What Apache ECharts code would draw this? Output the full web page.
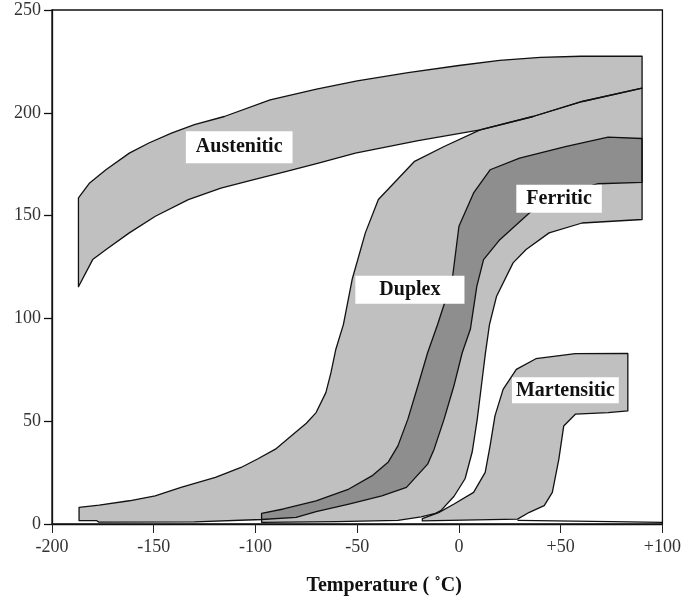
<!DOCTYPE html>
<html>
<head>
<meta charset="utf-8">
<script src="https://cdn.jsdelivr.net/npm/echarts@6/dist/echarts.min.js"></script>
<style>
  html, body { margin: 0; padding: 0; background: #fff; }
  #chart { width: 684px; height: 601px; }
</style>
</head>
<body>
<div id="chart"></div>
<script>
// Impact energy bands vs. temperature, by stainless steel family.
// Each band is bounded by an upper and a lower curve, points as [temperature, energy].

const xTicks = [-200, -150, -100, -50, 0, 50, 100];
const yTicks = [0, 50, 100, 150, 200, 250];

const austeniticUpper = [[-187, 158.6], [-181.5, 165.9], [-173.5, 172.3], [-162, 180.4], [-152.4, 185.3],
  [-141.3, 190.1], [-130, 194.2], [-115.3, 198.2], [-92.8, 206.3], [-70, 211.5], [-50, 215.5],
  [-25, 219.5], [0, 223], [20, 225.5], [40, 227], [60, 227.5], [90, 227.5]];
const austeniticLower = [[-187, 115.4], [-180, 128.6], [-173.4, 133.5], [-162, 141.6], [-149.2, 149.7],
  [-133, 157.8], [-117, 163.4], [-100.8, 167.5], [-84.7, 171.5], [-68.6, 175.6], [-50.9, 180.4],
  [-20, 186.5], [10.4, 191.7], [36.4, 198.2], [60.6, 205.5], [90, 212]];

const duplexUpper = [[-186.7, 8.1], [-176.8, 9.2], [-162, 11.3], [-149.3, 13.7], [-136.6, 17.8],
  [-119.7, 22.7], [-107.1, 27.5], [-99, 31.6], [-90.2, 36.4], [-81.6, 43.5], [-75, 49],
  [-70.2, 54.2], [-65.4, 63.9], [-62.9, 73.6], [-60.5, 85], [-56.8, 97], [-52.5, 118.9],
  [-46, 141.6], [-39.6, 157.8], [-21.8, 176.4], [-7.3, 183.6], [10.4, 191.7], [36.4, 198.2],
  [60.6, 205.5], [90, 212]];
const duplexLower = [[-186.7, 1.6], [-178, 1.6], [-177, 0.9], [-130, 1.0], [-97, 2.2], [-80, 3.2],
  [-70.2, 6.0], [-54.1, 9.7], [-37.9, 13.7], [-25.8, 17.8], [-15.4, 29.1], [-12.2, 36.4],
  [-7.3, 51], [-2.5, 67.1], [1.6, 83.3], [5.6, 94.7], [8.8, 115.7], [12.1, 128.6], [20.1, 138.3],
  [34.6, 151.3], [45, 157.5], [56, 162], [68.5, 165.5], [90, 166.2]];

const ferriticUpper = [[-97, 5.2], [-86.3, 7.3], [-70.2, 11.3], [-54.1, 17], [-42.8, 23.4],
  [-34.7, 30.2], [-30, 38], [-25.1, 51], [-20.2, 67.1], [-15.4, 83.3], [-10.5, 97], [-3.3, 118.9],
  [0, 144.8], [7.2, 161], [15.3, 172.3], [29.8, 178], [52.3, 183.6], [73.3, 188.2], [90, 187.5]];
const ferriticLower = [[-97, 0.8], [-60, 1.2], [-30, 1.8], [-18.6, 3.5], [-12, 5], [-8.9, 6.5],
  [-2.4, 13.5], [3, 22], [6.5, 35], [9, 51], [11, 67], [13, 83], [15, 97], [18.5, 110.8],
  [26.6, 127], [33, 133.5], [44.3, 141.6], [60.5, 146.4], [90, 148.1]];

const martensiticUpper = [[-18, 2.6], [-10, 5.5], [-2.4, 9.7], [7.2, 15.4], [12.9, 25.1], [15.3, 38],
  [17.7, 52.6], [21.7, 65.5], [28.2, 75.2], [37.8, 80.4], [57.2, 82.9], [83, 83]];
const martensiticLower = [[-18, 1.5], [28.8, 2.4], [34.6, 5.7], [41.9, 8.9], [45.9, 15.4],
  [49.1, 31.6], [51.5, 47.7], [57.2, 53.4], [73.3, 54.2], [83, 55]];
const martensiticBase = [[28.8, 1.8], [75, 1.2], [100, 0.8]];

const bandNames = ['Austenitic', 'Duplex', 'Ferritic', 'Martensitic'];

// label anchors (centre of each white tag), in axis units
const labelAnchors = [[-108, 183.3], [-24.1, 113.9], [49.2, 158.2], [52.3, 65]];
const labelPadding = [[6, 10], [4, 24], [4, 10], [3, 4]];

const LIGHT = '#c0c0c0';
const DARK = '#8e8e8e';
const INK = '#111';
const SERIF = '"Liberation Serif", "Times New Roman", serif';

function closed(upper, lower) {
  return upper.concat(lower.slice().reverse());
}

const austenitic = closed(austeniticUpper, austeniticLower);
const duplex = closed(duplexUpper, duplexLower);
const ferritic = closed(ferriticUpper, ferriticLower);
const martensitic = closed(martensiticUpper, martensiticLower);
// where the ferritic band lies over the duplex band
const overlap = closed(ferriticUpper, duplexLower.filter(p => p[0] >= -97));

function shapeSeries(points, style, polyline) {
  return {
    type: 'custom',
    coordinateSystem: 'cartesian2d',
    silent: true,
    data: [[points[0][0], points[0][1]]],
    renderItem: function (params, api) {
      return {
        type: polyline ? 'polyline' : 'polygon',
        shape: { points: points.map(p => api.coord(p)) },
        style: style
      };
    }
  };
}

const fillStyle = { fill: LIGHT, stroke: null };
const edgeStyle = { fill: null, stroke: INK, lineWidth: 1.3, lineJoin: 'round' };

// white name tags placed at their anchors
const tagSeries = {
  type: 'custom',
  coordinateSystem: 'cartesian2d',
  silent: true,
  z: 10,
  data: labelAnchors.map((p, i) => [p[0], p[1], i]),
  renderItem: function (params, api) {
    const i = api.value(2);
    const pt = api.coord([api.value(0), api.value(1)]);
    return {
      type: 'text',
      x: pt[0],
      y: pt[1],
      style: {
        text: bandNames[i],
        font: 'bold 20px ' + SERIF,
        fill: '#111',
        align: 'center',
        verticalAlign: 'middle',
        lineHeight: 20,
        backgroundColor: '#fff',
        padding: labelPadding[i]
      }
    };
  }
};

const series = [
  shapeSeries(austenitic, fillStyle),
  shapeSeries(duplex, fillStyle),
  shapeSeries(ferritic, fillStyle),
  shapeSeries(martensitic, fillStyle),
  shapeSeries(overlap, { fill: DARK, stroke: null }),
  shapeSeries(austenitic, edgeStyle),
  shapeSeries(duplex, edgeStyle),
  shapeSeries(ferritic, edgeStyle),
  shapeSeries(martensitic, edgeStyle),
  shapeSeries(martensiticBase, { fill: null, stroke: INK, lineWidth: 1.2 }, true),
  tagSeries
];

const chart = echarts.init(document.getElementById('chart'), null, { renderer: 'canvas' });
chart.setOption({
  animation: false,
  backgroundColor: '#fff',
  grid: {
    left: 52, right: 12, top: 10, bottom: 76,
    show: true, borderColor: INK, borderWidth: 1.3, backgroundColor: 'transparent'
  },
  xAxis: {
    type: 'value',
    min: xTicks[0], max: xTicks[xTicks.length - 1], interval: 50,
    name: 'Temperature ( ˚C)',
    nameLocation: 'middle',
    nameGap: 52,
    nameTextStyle: { fontFamily: SERIF, fontWeight: 'bold', fontSize: 20, color: '#111', padding: [0, 0, 0, 54] },
    axisLine: { onZero: false, lineStyle: { color: INK, width: 1.3 } },
    axisTick: { inside: false, length: 9, lineStyle: { color: '#222', width: 1 } },
    axisLabel: {
      margin: 14, fontFamily: SERIF, fontSize: 18, color: '#333',
      formatter: v => (v > 0 ? '+' + v : String(v))
    },
    splitLine: { show: false }
  },
  yAxis: {
    type: 'value',
    min: yTicks[0], max: yTicks[yTicks.length - 1], interval: 50,
    axisLine: { onZero: false, lineStyle: { color: INK, width: 1.3 } },
    axisTick: { inside: false, length: 8, lineStyle: { color: INK, width: 1.3 } },
    axisLabel: { margin: 11, fontFamily: SERIF, fontSize: 18, color: '#333' },
    splitLine: { show: false }
  },
  series: series
});
</script>
</body>
</html>
